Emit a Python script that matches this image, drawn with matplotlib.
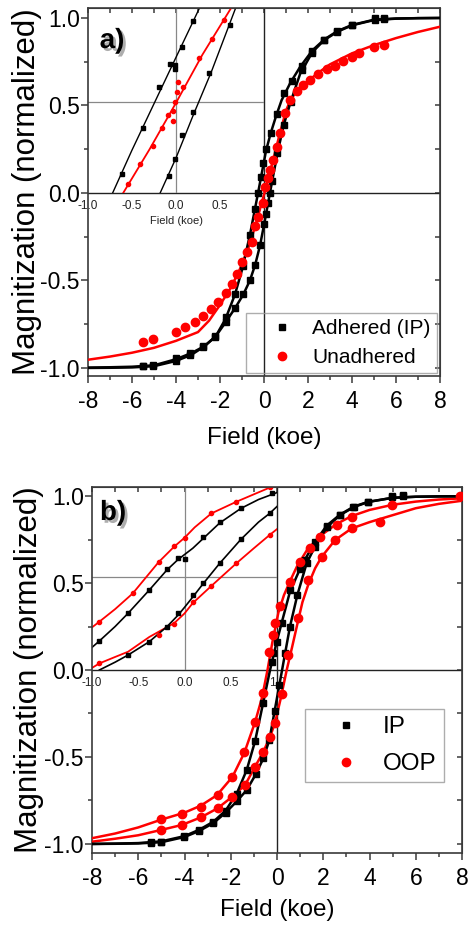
import matplotlib
matplotlib.use("Agg")
import matplotlib.pyplot as plt
import matplotlib.patheffects as pe
from matplotlib.ticker import MultipleLocator, NullFormatter

plt.rcParams['font.family'] = ['Liberation Sans', 'DejaVu Sans']
plt.rcParams['axes.unicode_minus'] = False

# ---------------- panel a: adhered (IP) vs unadhered ----------------
a_ip_up_H = [-8, -7, -6, -5, -4, -3.3, -2.7, -2.2, -1.75, -1.32, -1.0, -0.64, -0.27, 0.09, 0.3, 0.55,
             0.8, 1.2, 1.64, 2.2, 2.75, 3.35, 4.0, 5.0, 6.0, 7.0, 8.0]
a_ip_up_M = [-0.998, -0.996, -0.993, -0.985, -0.95, -0.915, -0.875, -0.82, -0.72, -0.58, -0.44, -0.24, 0.0,
             0.24, 0.34, 0.44, 0.53, 0.63, 0.72, 0.815, 0.878, 0.926, 0.96, 0.99, 0.997, 0.999, 1.0]
a_ip_lo_H = [-8, -7, -6, -5, -4, -3.3, -2.75, -2.2, -1.75, -1.3, -0.94, -0.64, -0.4, -0.18, 0.05, 0.27,
             0.45, 0.65, 0.9, 1.21, 1.64, 2.2, 2.75, 3.35, 4.0, 5.0, 6.0, 7.0, 8.0]
a_ip_lo_M = [-1.0, -0.999, -0.997, -0.99, -0.96, -0.925, -0.88, -0.82, -0.74, -0.655, -0.58, -0.5, -0.41,
             -0.3, -0.15, 0.0, 0.12, 0.25, 0.39, 0.52, 0.68, 0.805, 0.875, 0.922, 0.958, 0.988, 0.996, 0.999, 1.0]
a_ip_up_pts_H = [5.45, 5.05, 4.0, 3.33, 2.73, 2.17, 1.71, 1.26, 0.92, 0.61, 0.3, 0.1, -0.05, -0.15, -0.27,
                 -0.4, -0.64, -0.94, -1.32, -1.74, -2.23, -2.76, -3.36, -4.01, -5.03, -5.49]
a_ip_up_pts_M = [1.0, 1.0, 0.96, 0.925, 0.875, 0.81, 0.725, 0.64, 0.57, 0.45, 0.34, 0.25, 0.17, 0.09, 0.0,
                 -0.09, -0.24, -0.42, -0.58, -0.71, -0.82, -0.874, -0.916, -0.945, -0.983, -0.989]
a_ip_lo_pts_H = [-5.49, -5.03, -4.01, -3.36, -2.76, -2.23, -1.74, -1.3, -0.94, -0.64, -0.4, -0.18, 0.0, 0.09,
                 0.18, 0.27, 0.38, 0.61, 0.9, 1.21, 1.71, 2.17, 2.73, 3.33, 4.0, 5.05, 5.45]
a_ip_lo_pts_M = [-0.99, -0.986, -0.96, -0.928, -0.88, -0.822, -0.74, -0.655, -0.58, -0.5, -0.41, -0.3, -0.18,
                 -0.12, -0.06, 0.0, 0.07, 0.23, 0.39, 0.52, 0.7, 0.8, 0.874, 0.922, 0.958, 0.99, 0.995]

a_un_H = [-8, -7, -6, -5, -4, -3, -2.5, -2, -1.5, -1.0, -0.7, -0.4, -0.2, 0.0, 0.2, 0.4, 0.7, 1.0, 1.2,
          1.5, 2.0, 2.5, 3.0, 4.0, 5.0, 6.0, 7.0, 8.0]
a_un_M = [-0.953, -0.935, -0.913, -0.885, -0.845, -0.795, -0.73, -0.64, -0.54, -0.41, -0.31, -0.19, -0.1,
          -0.01, 0.09, 0.18, 0.33, 0.47, 0.53, 0.585, 0.64, 0.69, 0.735, 0.798, 0.845, 0.885, 0.92, 0.95]
a_un_pts_H = [5.45, 5.0, 4.33, 3.99, 3.6, 3.23, 2.85, 2.47, 2.09, 1.79, 1.49, 1.18, 0.95, 0.73, 0.58, 0.42,
              0.27, 0.2, 0.05, -0.06, -0.26, -0.41, -0.56, -0.79, -1.02, -1.24, -1.47, -1.74, -2.08, -2.41,
              -2.76, -3.14, -3.59, -4.01, -5.03, -5.49]
a_un_pts_M = [0.846, 0.836, 0.798, 0.779, 0.754, 0.728, 0.707, 0.68, 0.646, 0.617, 0.585, 0.531, 0.455, 0.341,
              0.265, 0.189, 0.131, 0.084, 0.036, -0.059, -0.135, -0.19, -0.278, -0.34, -0.395, -0.465, -0.518,
              -0.573, -0.621, -0.665, -0.703, -0.735, -0.768, -0.792, -0.836, -0.85]

# inset a (low field)
ins_a_blk1_x = [-0.72, -0.5, -0.25, 0.0, 0.27]
ins_a_blk1_y = [0.0, 0.245, 0.51, 0.775, 1.06]
ins_a_blk2_x = [-0.18, 0.0, 0.2, 0.4, 0.68]
ins_a_blk2_y = [0.0, 0.2, 0.45, 0.69, 1.06]
ins_a_red_x = [-0.6, -0.3, 0.0, 0.3, 0.63]
ins_a_red_y = [0.0, 0.25, 0.515, 0.79, 1.06]
ins_a_blk_pts_x = [-0.617, -0.372, -0.193, -0.068, -0.011, -0.011, 0.065, 0.197,
                   -0.076, -0.011, 0.065, 0.19, 0.375, 0.614]
ins_a_blk_pts_y = [0.107, 0.373, 0.604, 0.737, 0.731, 0.709, 0.836, 0.985,
                   0.097, 0.192, 0.331, 0.463, 0.684, 0.96]
ins_a_red_pts_x = [-0.54, -0.41, -0.265, -0.163, -0.087, -0.03, -0.03, -0.011, 0.008, 0.027, 0.083,
                   0.265, 0.405, 0.545]
ins_a_red_pts_y = [0.051, 0.164, 0.27, 0.373, 0.446, 0.411, 0.469, 0.522, 0.579, 0.636, 0.604,
                   0.773, 0.878, 0.99]

# ---------------- panel b: IP vs OOP ----------------
b_ip_D_H = [-8, -7, -6, -5, -4, -3.36, -2.75, -2.22, -1.74, -1.31, -0.95, -0.6, -0.3, -0.01, 0.2, 0.56,
            0.99, 1.21, 1.64, 2.15, 2.72, 3.33, 3.95, 5.0, 6.0, 7.0, 8.0]
b_ip_D_M = [-1.0, -0.998, -0.995, -0.985, -0.955, -0.918, -0.872, -0.808, -0.71, -0.575, -0.41, -0.19, 0.0,
            0.163, 0.27, 0.45, 0.58, 0.635, 0.735, 0.83, 0.893, 0.94, 0.967, 0.99, 0.996, 0.998, 0.999]
b_ip_A_H = [-8, -7, -6, -5, -4, -3.36, -2.75, -2.22, -1.74, -1.31, -0.92, -0.59, -0.33, 0.0, 0.22, 0.35,
            0.56, 0.88, 1.28, 1.64, 2.15, 2.72, 3.33, 3.95, 5.0, 6.0, 7.0, 8.0]
b_ip_A_M = [-1.0, -0.999, -0.997, -0.99, -0.96, -0.925, -0.88, -0.82, -0.755, -0.69, -0.6, -0.508, -0.402,
            -0.16, 0.0, 0.096, 0.249, 0.431, 0.613, 0.709, 0.82, 0.89, 0.937, 0.966, 0.99, 0.996, 0.998, 0.999]
b_ip_D_pts_H = [-5.46, -5.03, -4.01, -3.36, -2.75, -2.22, -1.74, -1.31, -0.95, -0.6, -0.23, -0.16, -0.01,
                0.2, 0.56, 0.99, 1.21, 1.64, 2.15, 2.72, 3.3, 3.95, 4.96, 5.43]
b_ip_D_pts_M = [-0.99, -0.986, -0.955, -0.918, -0.872, -0.808, -0.71, -0.575, -0.41, -0.19, 0.048, 0.096,
                0.163, 0.27, 0.46, 0.58, 0.632, 0.737, 0.83, 0.89, 0.939, 0.967, 1.0, 1.005]
b_ip_A_pts_H = [-5.46, -5.03, -4.01, -3.36, -2.75, -2.22, -1.74, -1.31, -0.92, -0.59, -0.33, -0.1, 0.1,
                0.35, 0.56, 0.88, 1.28, 1.64, 2.15, 2.72, 3.33, 3.95, 4.96, 5.43]
b_ip_A_pts_M = [-0.992, -0.989, -0.96, -0.925, -0.88, -0.82, -0.755, -0.69, -0.6, -0.508, -0.402, -0.235,
                -0.085, 0.096, 0.249, 0.431, 0.613, 0.709, 0.824, 0.89, 0.937, 0.966, 0.995, 1.0]

b_oop_D_H = [-8, -7, -6, -5, -4, -3.3, -2.6, -1.93, -1.41, -0.95, -0.65, -0.41, -0.2, 0.06, 0.3, 0.56,
             0.88, 1.3, 1.86, 2.58, 3.23, 4.0, 5.0, 6.0, 7.0, 8.0]
b_oop_D_M = [-0.967, -0.94, -0.905, -0.86, -0.82, -0.78, -0.72, -0.615, -0.475, -0.3, -0.16, 0.0, 0.16,
             0.33, 0.43, 0.51, 0.6, 0.69, 0.77, 0.84, 0.885, 0.92, 0.95, 0.968, 0.98, 0.987]
b_oop_A_H = [-8, -7, -6, -5.03, -4.12, -3.29, -2.57, -1.93, -1.38, -0.95, -0.59, -0.3, -0.09, 0.15, 0.42,
             0.65, 0.89, 1.1, 1.35, 1.65, 1.93, 2.51, 3.23, 4.0, 5.0, 6.0, 7.0, 8.0]
b_oop_A_M = [-0.987, -0.97, -0.95, -0.92, -0.891, -0.847, -0.795, -0.728, -0.661, -0.556, -0.47, -0.383,
             -0.306, -0.17, 0.0, 0.13, 0.27, 0.39, 0.49, 0.585, 0.65, 0.747, 0.814, 0.85, 0.89, 0.93, 0.955, 0.973]
b_oop_D_pts_H = [-5.03, -4.09, -3.29, -2.57, -1.93, -1.41, -0.95, -0.6, -0.33, -0.19, -0.09, 0.13, 0.56,
                 1.0, 1.43, 1.86, 2.58, 3.23, 4.96, 7.9]
b_oop_D_pts_M = [-0.856, -0.829, -0.785, -0.718, -0.613, -0.473, -0.297, -0.13, 0.105, 0.2, 0.27, 0.37,
                 0.507, 0.62, 0.7, 0.766, 0.833, 0.881, 0.948, 1.0]
b_oop_A_pts_H = [-5.03, -4.12, -3.29, -2.57, -1.93, -1.38, -0.95, -0.59, -0.3, -0.09, 0.2, 0.49, 0.89,
                 1.35, 1.93, 2.51, 3.23, 4.45]
b_oop_A_pts_M = [-0.92, -0.891, -0.847, -0.795, -0.728, -0.661, -0.556, -0.47, -0.383, -0.306, -0.14,
                 0.086, 0.297, 0.517, 0.648, 0.747, 0.814, 0.852]

# inset b (low field)
ins_b_red_up_x = [-1.0, -0.92, -0.75, -0.56, -0.42, -0.28, -0.11, 0.0, 0.11, 0.29, 0.56, 0.75, 0.95]
ins_b_red_up_y = [0.245, 0.278, 0.35, 0.44, 0.53, 0.62, 0.71, 0.76, 0.82, 0.9, 0.967, 1.01, 1.055]
ins_b_blk_up_x = [-1.0, -0.92, -0.75, -0.61, -0.38, -0.19, -0.07, 0.09, 0.2, 0.38, 0.61, 0.8, 1.0]
ins_b_blk_up_y = [0.13, 0.167, 0.25, 0.326, 0.46, 0.575, 0.635, 0.7, 0.755, 0.845, 0.929, 0.98, 1.02]
ins_b_blk_lo_x = [-0.92, -0.75, -0.61, -0.38, -0.19, -0.07, 0.0, 0.09, 0.2, 0.38, 0.61, 0.8, 0.92, 1.0]
ins_b_blk_lo_y = [0.0, 0.045, 0.086, 0.163, 0.249, 0.315, 0.36, 0.42, 0.495, 0.613, 0.751, 0.85, 0.9, 0.94]
ins_b_red_lo_x = [-1.0, -0.92, -0.75, -0.61, -0.38, -0.11, 0.0, 0.09, 0.29, 0.56, 0.75, 0.92, 1.0]
ins_b_red_lo_y = [0.012, 0.038, 0.075, 0.105, 0.19, 0.27, 0.325, 0.385, 0.483, 0.613, 0.7, 0.776, 0.81]
ins_b_red_pts_x = [-0.92, -0.56, -0.28, -0.11, 0.0, 0.29, 0.56, 0.92, -0.92, -0.28, -0.11, 0.09, 0.29, 0.56, 0.92]
ins_b_red_pts_y = [0.278, 0.44, 0.62, 0.71, 0.76, 0.9, 0.967, 1.05, 0.038, 0.2, 0.265, 0.39, 0.483, 0.613, 0.776]
ins_b_blk_pts_x = [-0.92, -0.61, -0.38, -0.19, -0.07, 0.0, 0.2, 0.38, 0.61, 0.95,
                   -0.61, -0.38, -0.19, -0.07, 0.09, 0.2, 0.38, 0.61, 0.92]
ins_b_blk_pts_y = [0.167, 0.326, 0.46, 0.579, 0.642, 0.636, 0.766, 0.852, 0.929, 1.015,
                   0.086, 0.163, 0.249, 0.326, 0.431, 0.498, 0.613, 0.751, 0.9]

inset_ticks = [-1.0, -0.5, 0.0, 0.5, 1.0]
inset_labels_a = ['-1.0', '-0.5', '0.0', '0.5', '']
inset_labels_b = ['-1.0', '-0.5', '0.0', '0.5', '1.0']

W, H = 469, 932
fig = plt.figure(figsize=(W / 100, H / 100), dpi=100)
spine_col = '#3a3a3a'


def px_box(x0, y0, x1, y1):
    return [x0 / W, 1 - y1 / H, (x1 - x0) / W, (y1 - y0) / H]


def style_main(ax, ylim):
    ax.set_xlim(-8, 8)
    ax.set_ylim(*ylim)
    ax.patch.set_facecolor('white')
    ax.xaxis.set_major_locator(MultipleLocator(2))
    ax.xaxis.set_minor_locator(MultipleLocator(1))
    ax.yaxis.set_major_locator(MultipleLocator(0.5))
    ax.yaxis.set_minor_locator(MultipleLocator(0.25))
    ax.tick_params(which='both', direction='out', width=1.1, color=spine_col, labelsize=16.5)
    ax.tick_params(which='major', length=5)
    ax.tick_params(which='minor', length=3)
    ax.tick_params(axis='x', pad=5)
    ax.tick_params(axis='y', pad=1)
    for s in ax.spines.values():
        s.set_color(spine_col)
        s.set_linewidth(1.2)
    top = ax.secondary_xaxis('top')
    top.xaxis.set_major_locator(MultipleLocator(1))
    top.xaxis.set_major_formatter(NullFormatter())
    top.tick_params(direction='in', length=3.5, width=1.1, color=spine_col)
    top.spines['top'].set_color(spine_col)
    right = ax.secondary_yaxis('right')
    right.yaxis.set_major_locator(MultipleLocator(0.25))
    right.yaxis.set_major_formatter(NullFormatter())
    right.tick_params(direction='in', length=3.5, width=1.1, color=spine_col)
    right.spines['right'].set_color(spine_col)
    ax.axhline(0, color='#222222', lw=1.0, zorder=1)
    ax.axvline(0, color='#222222', lw=1.0, zorder=1)


def make_inset(ax, ylim, hline, labels):
    y0 = (0 - ylim[0]) / (ylim[1] - ylim[0])
    ins = ax.inset_axes([0, y0, 0.5, 1 - y0])
    ins.set_zorder(1.5)
    ins.patch.set_alpha(0)
    ins.set_xlim(-1, 1)
    ins.set_ylim(0, ylim[1])
    for s in ins.spines.values():
        s.set_visible(False)
    ins.set_yticks([])
    ins.set_xticks(inset_ticks)
    ins.set_xticklabels(labels)
    ins.tick_params(axis='x', length=0, pad=5, labelsize=8.5, labelcolor='#222222')
    ins.axvline(0, color='#888888', lw=0.9)
    ins.axhline(hline, color='#888888', lw=0.9)
    return ins


# ---- panel a ----
ylim_a = (-1.046, 1.057)
ax_a = fig.add_axes(px_box(88, 8, 440, 376))
style_main(ax_a, ylim_a)
ax_a.plot(a_un_H, a_un_M, color='red', lw=1.8, zorder=3)
ax_a.plot(a_ip_up_H, a_ip_up_M, color='black', lw=1.8, zorder=3)
ax_a.plot(a_ip_lo_H, a_ip_lo_M, color='black', lw=1.8, zorder=3)
ax_a.plot(a_ip_up_pts_H, a_ip_up_pts_M, 's', color='black', ms=5, zorder=4, label='Adhered (IP)')
ax_a.plot(a_ip_lo_pts_H, a_ip_lo_pts_M, 's', color='black', ms=5, zorder=4)
ax_a.plot(a_un_pts_H, a_un_pts_M, 'o', color='red', ms=6, zorder=4, label='Unadhered')

ins_a = make_inset(ax_a, ylim_a, 0.52, inset_labels_a)
ins_a.plot(ins_a_blk1_x, ins_a_blk1_y, color='black', lw=1.0)
ins_a.plot(ins_a_blk2_x, ins_a_blk2_y, color='black', lw=1.0)
ins_a.plot(ins_a_red_x, ins_a_red_y, color='red', lw=1.3)
ins_a.plot(ins_a_blk_pts_x, ins_a_blk_pts_y, 's', color='black', ms=3)
ins_a.plot(ins_a_red_pts_x, ins_a_red_pts_y, 'o', color='red', ms=3)
ins_a.set_xlabel('Field (koe)', fontsize=8, labelpad=3, color='#222222')

leg_a = ax_a.legend(loc='lower right', bbox_to_anchor=(0.9915, 0.008), borderaxespad=0, fontsize=15,
                    fancybox=False, edgecolor='#999999', facecolor='none', handlelength=2.9,
                    handletextpad=0.0, borderpad=0.3, labelspacing=0.45)
leg_a.get_frame().set_linewidth(1.0)

# ---- panel b ----
ylim_b = (-1.052, 1.052)
ax_b = fig.add_axes(px_box(92, 487, 462, 853))
style_main(ax_b, ylim_b)
ax_b.plot(b_oop_D_H, b_oop_D_M, color='red', lw=1.8, zorder=3)
ax_b.plot(b_oop_A_H, b_oop_A_M, color='red', lw=1.8, zorder=3)
ax_b.plot(b_ip_D_H, b_ip_D_M, color='black', lw=1.8, zorder=3)
ax_b.plot(b_ip_A_H, b_ip_A_M, color='black', lw=1.8, zorder=3)
ax_b.plot(b_ip_D_pts_H, b_ip_D_pts_M, 's', color='black', ms=5, zorder=4, label='IP')
ax_b.plot(b_ip_A_pts_H, b_ip_A_pts_M, 's', color='black', ms=5, zorder=4)
ax_b.plot(b_oop_D_pts_H, b_oop_D_pts_M, 'o', color='red', ms=6, zorder=4, label='OOP')
ax_b.plot(b_oop_A_pts_H, b_oop_A_pts_M, 'o', color='red', ms=6, zorder=4)

ins_b = make_inset(ax_b, ylim_b, 0.534, inset_labels_b)
ins_b.plot(ins_b_red_up_x, ins_b_red_up_y, color='red', lw=1.3)
ins_b.plot(ins_b_red_lo_x, ins_b_red_lo_y, color='red', lw=1.3)
ins_b.plot(ins_b_blk_up_x, ins_b_blk_up_y, color='black', lw=1.2)
ins_b.plot(ins_b_blk_lo_x, ins_b_blk_lo_y, color='black', lw=1.2)
ins_b.plot(ins_b_blk_pts_x, ins_b_blk_pts_y, 's', color='black', ms=3)
ins_b.plot(ins_b_red_pts_x, ins_b_red_pts_y, 'o', color='red', ms=3)

leg_b = ax_b.legend(loc='upper right', bbox_to_anchor=(0.951, 0.393), borderaxespad=0, fontsize=17.5,
                    fancybox=False, edgecolor='#999999', facecolor='none', handlelength=2.8,
                    handletextpad=0.12, borderpad=0.3, labelspacing=0.6)
leg_b.get_frame().set_linewidth(1.0)

# ---- shared texts ----
shadow = [pe.withSimplePatchShadow(offset=(2, -2), shadow_rgbFace='#777777', alpha=0.6)]
fig.text(112 / W, 1 - 41 / H, 'a)', fontsize=20, fontweight='bold', ha='center', va='center',
         path_effects=shadow)
fig.text(113 / W, 1 - 513 / H, 'b)', fontsize=20, fontweight='bold', ha='center', va='center',
         path_effects=shadow)
fig.text(264 / W, 1 - 438 / H, 'Field (koe)', fontsize=17.5, ha='center', va='center')
fig.text(277 / W, 1 - 910 / H, 'Field (koe)', fontsize=17.5, ha='center', va='center')
fig.text(27 / W, 1 - 192 / H, 'Magnitization (normalized)', fontsize=22.5, rotation=90,
         ha='center', va='center')
fig.text(29 / W, 1 - 670 / H, 'Magnitization (normalized)', fontsize=22.5, rotation=90,
         ha='center', va='center')

fig.savefig('out.png', dpi=100)
